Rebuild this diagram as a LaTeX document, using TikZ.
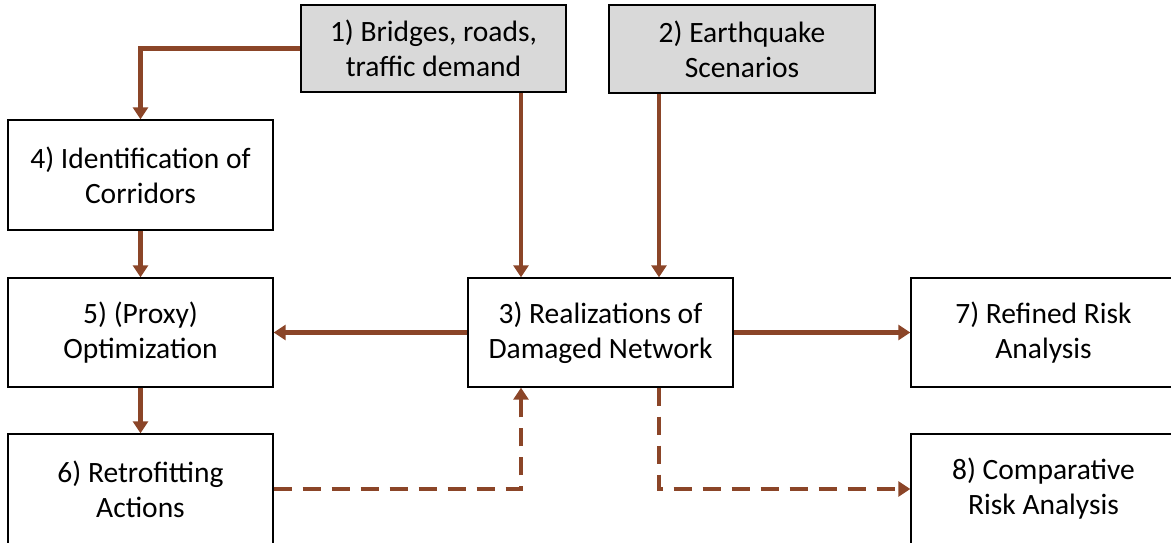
\documentclass[tikz,border=0pt]{standalone}
\usepackage{fontspec}
\setmainfont{Carlito}
\usetikzlibrary{arrows.meta}
\definecolor{flow}{RGB}{139,69,40}
\definecolor{inbox}{RGB}{217,217,217}
\tikzset{
  stepbox/.style={draw=black, line width=1.4pt, fill=white, minimum width=265pt,
    align=center, inner sep=0pt, font=\fontsize{29.5}{35}\selectfont},
  inputbox/.style={stepbox, fill=inbox},
  flowline/.style={draw=flow, line width=4.3pt,
    -{Triangle[width=15pt,length=12pt]}},
  dashflow/.style={flowline, dash pattern=on 18pt off 11pt}
}
\begin{document}
\begin{tikzpicture}[x=1pt,y=-1pt]
\useasboundingbox (0,0) rectangle (1171,543);
\begin{scope}
\clip (0,0) rectangle (1171,543);
\node[inputbox, minimum height=87pt] (b1) at (433.5,48.5) {1) Bridges, roads,\\traffic demand};
\node[inputbox, minimum height=88pt, minimum width=266pt] (b2) at (742,49) {2) Earthquake\\Scenarios};
\node[stepbox, minimum height=110pt] (b4) at (140.5,175) {4) Identification of\\Corridors};
\node[stepbox, minimum height=109pt] (b5) at (140.5,332.5) {5) (Proxy)\\Optimization};
\node[stepbox, minimum height=110pt] (b6) at (140.5,489) {6) Retrofitting\\Actions};
\node[stepbox, minimum height=109pt] (b3) at (600.5,332.5) {3) Realizations of\\Damaged Network};
\node[stepbox, minimum height=109pt] (b7) at (1043.5,332.5) {7) Refined Risk\\Analysis};
\node[stepbox, minimum height=110pt] (b8) at (1043.5,489) {8) Comparative\\Risk Analysis};

\coordinate (p1) at (521,0);
\coordinate (p2) at (659,0);

\draw[flowline] (b1.west) -| (b4.north);
\draw[flowline] (b4.south) -- (b5.north);
\draw[flowline] (b5.south) -- (b6.north);
\draw[flowline] (b1.south -| p1) -- (b3.north -| p1);
\draw[flowline] (b2.south -| p2) -- (b3.north -| p2);
\draw[flowline] (b3.west) -- (b5.east);
\draw[flowline] (b3.east) -- (b7.west);
\draw[dashflow] (b6.east) -| (b3.south -| p1);
\draw[dashflow] (b3.south -| p2) |- (b8.west);
\end{scope}
\end{tikzpicture}
\end{document}
